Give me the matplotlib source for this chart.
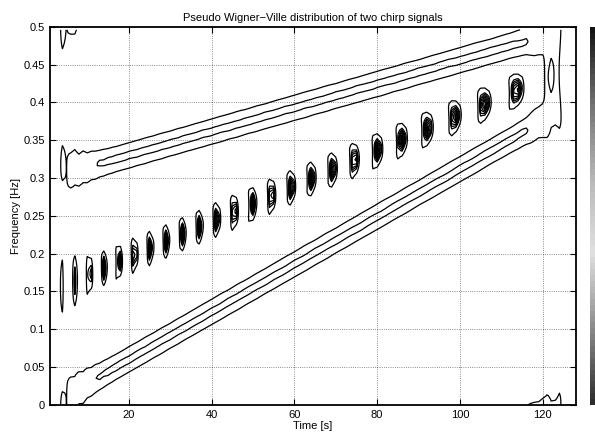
import numpy as np
import matplotlib
matplotlib.use('Agg')
import matplotlib.pyplot as plt
from matplotlib.colors import LinearSegmentedColormap

# two linear chirps, normalised start / end frequencies
n_points = 128
f_start = [0.0, 0.3]
f_end = [0.4, 0.5]

x_ticks = [20, 40, 60, 80, 100, 120]
y_ticks = [0, 0.05, 0.1, 0.15, 0.2, 0.25, 0.3, 0.35, 0.4, 0.45, 0.5]
y_ticklabels = ['0', '0.05', '0.1', '0.15', '0.2', '0.25', '0.3', '0.35', '0.4', '0.45', '0.5']
# contour levels as fraction of the maximum
level_frac = [0.19, 0.47, 0.57, 0.66, 0.75, 0.84, 0.92]


def fmlin(n, f0, f1):
    t = np.arange(1, n + 1)
    t0 = round(n / 2)
    phase = f0 * (t - t0) + (f1 - f0) / (2 * (n - 1)) * ((t - 1) ** 2 - (t0 - 1) ** 2)
    return np.exp(2j * np.pi * phase)


def pwvd(x):
    n = len(x)
    hlen = n // 4
    hlen = hlen + 1 - hlen % 2
    h = np.hamming(hlen)
    lh = (hlen - 1) // 2
    h = h / h[lh]
    tfr = np.zeros((n, n), dtype=complex)
    for i in range(n):
        ti = i + 1
        taumax = min(ti - 1, n - ti, round(n / 2) - 1, lh)
        tau = np.arange(-taumax, taumax + 1)
        idx = (n + tau) % n
        tfr[idx, i] = h[lh + tau] * x[i + tau] * np.conj(x[i - tau])
    return np.real(np.fft.fft(tfr, axis=0))


sig = sum(fmlin(n_points, a, b) for a, b in zip(f_start, f_end))
tfr = pwvd(sig)
t = np.arange(1, n_points + 1)
f = np.arange(n_points) / (2 * n_points)

plt.rcParams['font.family'] = ['Liberation Sans', 'DejaVu Sans']
fig = plt.figure(figsize=(5.95, 4.41), dpi=100)
ax = fig.add_axes([0.084, 0.082, 0.884, 0.857])
levels = tfr.max() * np.array(level_frac)
ax.contour(t, f, tfr, levels=levels, colors='k', linewidths=0.9)

ax.set_xlim(1, 128)
ax.set_ylim(0, 0.5)
ax.set_xticks(x_ticks)
ax.set_yticks(y_ticks)
ax.set_yticklabels(y_ticklabels)
ax.tick_params(direction='in', top=True, right=True, labelsize=8, length=4)
ax.grid(True, linestyle=':', color='k', linewidth=0.6, alpha=0.6)
for s in ax.spines.values():
    s.set_linewidth(1.3)
ax.set_xlabel('Time [s]', fontsize=8, labelpad=1)
ax.set_ylabel('Frequency [Hz]', fontsize=8, labelpad=2)
ax.set_title('Pseudo Wigner\u2212Ville distribution of two chirp signals', fontsize=8, pad=4)

# colour strip on the right edge
cmap = LinearSegmentedColormap.from_list('bar', [
    (0.0, (0.18,) * 3), (0.2, (0.55,) * 3), (0.4, (0.88,) * 3),
    (0.6, (0.72,) * 3), (0.8, (0.45,) * 3), (1.0, (0.08,) * 3)])
cax = fig.add_axes([0.9916, 0.082, 0.02, 0.857])
cax.imshow(np.linspace(0, 1, 64)[:, None], aspect='auto', cmap=cmap, origin='lower')
cax.axis('off')

fig.savefig('out.png', dpi=100)
